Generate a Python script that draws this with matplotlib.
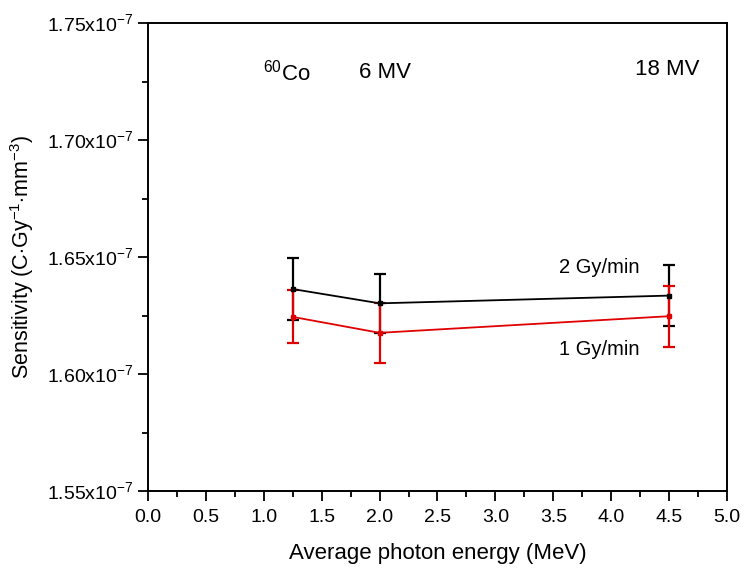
import numpy as np
from matplotlib import pyplot as plt
from matplotlib.ticker import FuncFormatter, MultipleLocator

plt.rcParams['font.family'] = ['Liberation Sans', 'DejaVu Sans']
plt.rcParams['mathtext.fontset'] = 'custom'
plt.rcParams['mathtext.rm'] = 'Liberation Sans'

energy = [1.25, 2.0, 4.5]
sens_2gy = [1.6363, 1.6302, 1.6335]
err_2gy = [0.0132, 0.0126, 0.0132]
sens_1gy = [1.6244, 1.6176, 1.6247]
err_1gy = [0.0113, 0.0128, 0.0130]
scale = 1e-7

fig = plt.figure(figsize=(7.44, 5.75), dpi=100)
ax = fig.add_axes([148 / 744, 84 / 575, 579 / 744, 468 / 575])

ax.errorbar(energy, np.array(sens_2gy) * scale, yerr=np.array(err_2gy) * scale,
            color='black', lw=1.3, elinewidth=1.6, capsize=4, capthick=1.6,
            marker='s', ms=2.5)
ax.errorbar(energy, np.array(sens_1gy) * scale, yerr=np.array(err_1gy) * scale,
            color='#e00000', lw=1.3, elinewidth=1.6, capsize=4, capthick=1.6,
            marker='s', ms=2.5)

ax.set_xlim(0, 5)
ax.set_ylim(1.55e-7, 1.75e-7)
ax.xaxis.set_major_locator(MultipleLocator(0.5))
ax.xaxis.set_minor_locator(MultipleLocator(0.25))
ax.yaxis.set_major_locator(MultipleLocator(0.05e-7))
ax.yaxis.set_minor_locator(MultipleLocator(0.025e-7))
ax.xaxis.set_major_formatter(FuncFormatter(lambda v, p: '%.1f' % v))
ax.yaxis.set_major_formatter(FuncFormatter(lambda v, p: r'%.2fx10$^{\mathrm{-7}}$' % (v / scale)))
ax.tick_params(axis='both', which='major', direction='out', length=7, width=1.3, labelsize=14)
ax.tick_params(axis='x', which='major', pad=6)
ax.tick_params(axis='both', which='minor', direction='out', length=4, width=1.3)
ax.tick_params(top=False, right=False, which='both')
for s in ax.spines.values():
    s.set_linewidth(1.4)

ax.set_xlabel('Average photon energy (MeV)', fontsize=16, labelpad=12)
ax.set_ylabel(r'Sensitivity (C$\cdot$Gy$^{\mathrm{-1}}$$\cdot$mm$^{\mathrm{-3}}$)', fontsize=15.5, labelpad=8)

ax.text(1.2, 1.729e-7, r'$^{\mathrm{60}}$Co', fontsize=16, ha='center', va='center')
ax.text(2.05, 1.729e-7, '6 MV', fontsize=16, ha='center', va='center')
ax.text(4.48, 1.730e-7, '18 MV', fontsize=16, ha='center', va='center')
ax.text(3.9, 1.6453e-7, '2 Gy/min', fontsize=14.5, ha='center', va='center')
ax.text(3.9, 1.6103e-7, '1 Gy/min', fontsize=14.5, ha='center', va='center')

fig.savefig('out.png', dpi=100)
